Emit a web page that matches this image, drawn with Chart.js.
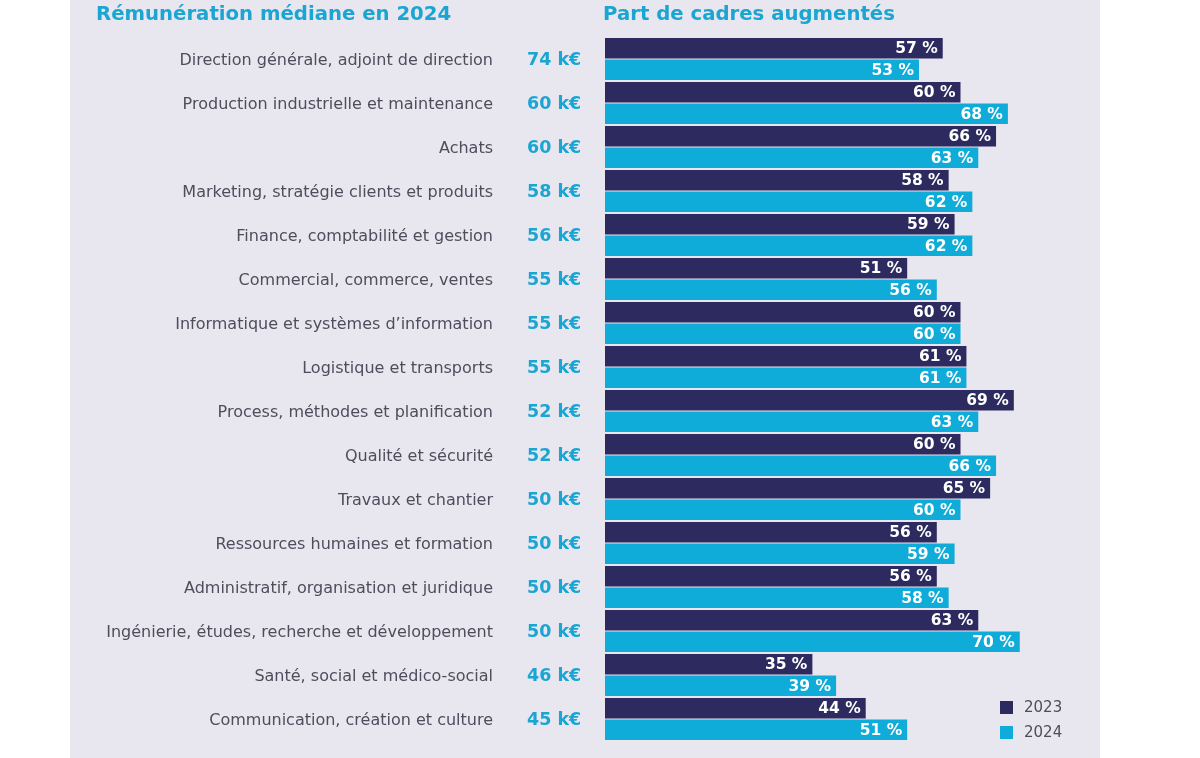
<!DOCTYPE html>
<html lang="fr">
<head>
<meta charset="utf-8">
<title>Part de cadres augmentés</title>
<script src="https://cdn.jsdelivr.net/npm/chart.js@4.4.1/dist/chart.umd.min.js"></script>
<style>
  html, body { margin: 0; padding: 0; background: #ffffff; }
  #wrap { width: 1200px; height: 758px; position: relative; }
</style>
</head>
<body>
<div id="wrap"><canvas id="chart" width="1200" height="758"></canvas></div>
<script>
// DONNEES
const categories = [
  "Direction générale, adjoint de direction",
  "Production industrielle et maintenance",
  "Achats",
  "Marketing, stratégie clients et produits",
  "Finance, comptabilité et gestion",
  "Commercial, commerce, ventes",
  "Informatique et systèmes d’information",
  "Logistique et transports",
  "Process, méthodes et planification",
  "Qualité et sécurité",
  "Travaux et chantier",
  "Ressources humaines et formation",
  "Administratif, organisation et juridique",
  "Ingénierie, études, recherche et développement",
  "Santé, social et médico-social",
  "Communication, création et culture"
];
const remunerationMediane = [74, 60, 60, 58, 56, 55, 55, 55, 52, 52, 50, 50, 50, 50, 46, 45];
const part2023 = [57, 60, 66, 58, 59, 51, 60, 61, 69, 60, 65, 56, 56, 63, 35, 44];
const part2024 = [53, 68, 63, 62, 62, 56, 60, 61, 63, 66, 60, 59, 58, 70, 39, 51];
const annees = ["2023", "2024"];

const titreGauche = "Rémunération médiane en 2024";
const titreDroite = "Part de cadres augmentés";

// COULEURS
const NAVY = "#2c2a5e";
const CYAN = "#0fabd9";
const TITRE = "#1ba5d3";
const GRIS = "#4e4d5c";
const FOND = "#e8e6ef";
const FONT = "'DejaVu Sans', 'Open Sans', sans-serif";

// fond + textes
const decor = {
  id: "decor",
  beforeDraw(chart){
    const ctx = chart.ctx;
    ctx.save();
    ctx.fillStyle = FOND;
    ctx.fillRect(70, 0, 1030, chart.height);
    ctx.restore();
  },
  afterDatasetsDraw(chart){
    const ctx = chart.ctx;
    const y = chart.scales.y;
    ctx.save();
    // titres
    ctx.font = "bold 19.7px " + FONT;
    ctx.fillStyle = TITRE;
    ctx.textBaseline = "middle";
    ctx.textAlign = "left";
    ctx.fillText(titreGauche, 96, 15);
    ctx.fillText(titreDroite, 603, 15);

    // categories + remuneration
    categories.forEach((c, i) => {
      const py = y.getPixelForValue(i) + 1.5;
      ctx.font = "16px " + FONT;
      ctx.fillStyle = GRIS;
      ctx.textAlign = "right";
      ctx.fillText(c, 493, py);
      ctx.font = "bold 17.5px " + FONT;
      ctx.fillStyle = TITRE;
      ctx.textAlign = "left";
      ctx.fillText(remunerationMediane[i] + " k€", 527, py);
    });

    // etiquettes des barres
    ctx.font = "bold 15.5px " + FONT;
    ctx.fillStyle = "#ffffff";
    ctx.textAlign = "right";
    chart.data.datasets.forEach((ds, di) => {
      chart.getDatasetMeta(di).data.forEach((bar, i) => {
        ctx.fillText(ds.data[i] + " %", bar.x - 5, bar.y + 1);
      });
    });

    // legende
    ctx.font = "15px " + FONT;
    ctx.textAlign = "left";
    chart.data.datasets.forEach((ds, di) => {
      const ly = 707 + di * 25;
      ctx.fillStyle = ds.backgroundColor;
      ctx.fillRect(1000, ly - 6, 13, 13);
      ctx.fillStyle = GRIS;
      ctx.fillText(ds.label, 1024, ly + 1);
    });
    ctx.restore();
  }
};

new Chart(document.getElementById("chart"), {
  type: "bar",
  data: {
    labels: categories,
    datasets: [
      { label: annees[0], data: part2023, backgroundColor: NAVY, borderWidth: 0 },
      { label: annees[1], data: part2024, backgroundColor: CYAN, borderWidth: 0 }
    ]
  },
  options: {
    indexAxis: "y",
    responsive: false,
    animation: false,
    devicePixelRatio: 1,
    categoryPercentage: 0.98,
    barPercentage: 0.95,
    layout: { padding: { left: 605, right: 121, top: 37, bottom: 17 } },
    scales: {
      x: { display: false, min: 0, max: 80, grid: { display: false } },
      y: { display: false, grid: { display: false } }
    },
    plugins: {
      legend: { display: false },
      tooltip: { enabled: false }
    }
  },
  plugins: [decor]
});
</script>
</body>
</html>
